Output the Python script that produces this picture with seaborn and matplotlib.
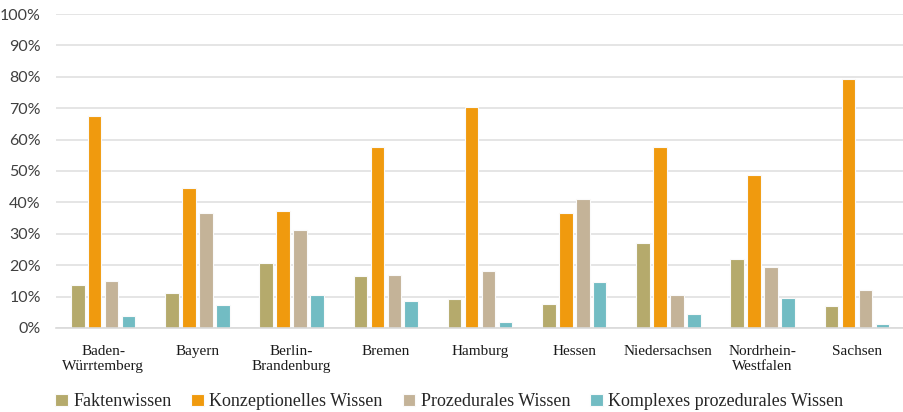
import matplotlib
matplotlib.use("Agg")
import matplotlib.pyplot as plt
import seaborn as sns
import pandas as pd
from matplotlib.ticker import FuncFormatter

regions = ["Baden-\nWürrtemberg", "Bayern", "Berlin-\nBrandenburg", "Bremen",
           "Hamburg", "Hessen", "Niedersachsen", "Nordrhein-\nWestfalen", "Sachsen"]
series = ["Faktenwissen", "Konzeptionelles Wissen", "Prozedurales Wissen",
          "Komplexes prozedurales Wissen"]
fakten = [13.6, 11.2, 20.8, 16.6, 9.2, 7.7, 27.0, 22.0, 7.1]
konzept = [67.4, 44.5, 37.2, 57.7, 70.5, 36.5, 57.7, 48.8, 79.3]
prozedural = [14.8, 36.6, 31.3, 16.9, 18.2, 41.0, 10.4, 19.5, 12.0]
komplex = [3.7, 7.4, 10.4, 8.7, 1.8, 14.6, 4.6, 9.5, 1.4]
colors = ["#b5aa6c", "#f09a0e", "#c4b398", "#72bcc3"]

rows = []
for name, vals in zip(series, [fakten, konzept, prozedural, komplex]):
    for r, v in zip(regions, vals):
        rows.append({"Land": r, "Wissensart": name, "Anteil": v})
df = pd.DataFrame(rows)

sns.set_theme(style="white")
fig = plt.figure(figsize=(9.04, 4.12), dpi=100)
ax = fig.add_axes([0.062, 0.204, 0.938, 0.762])

sns.barplot(data=df, x="Land", y="Anteil", hue="Wissensart", order=regions,
            hue_order=series, palette=colors, width=0.72, gap=0.2,
            edgecolor="#fafafa", linewidth=0.8, saturation=1, ax=ax)

ax.set_ylim(0, 100)
ax.set_xlim(-0.5, len(regions) - 0.5)
ax.set_yticks(range(0, 101, 10))
ax.yaxis.set_major_formatter(FuncFormatter(lambda v, p: f"{int(v)}%"))
ax.grid(axis="y", color="#e0e0e0", linewidth=1.2)
ax.set_axisbelow(True)
for s in ["top", "right", "left"]:
    ax.spines[s].set_visible(False)
ax.spines["bottom"].set_color("#d9d9d9")
ax.spines["bottom"].set_linewidth(1.2)
ax.set_xlabel("")
ax.set_ylabel("")
ax.tick_params(axis="y", length=0, pad=11, labelsize=11.5, labelcolor="#404040")
ax.tick_params(axis="x", length=0, pad=12)
for t in ax.get_yticklabels():
    t.set_fontfamily("Lato")
for t in ax.get_xticklabels():
    t.set_fontfamily("Liberation Serif")
    t.set_fontsize(11)
    t.set_color("#1a1a1a")

handles, labels = ax.get_legend_handles_labels()
ax.legend_.remove()
fig.legend(handles, labels, loc="lower center", bbox_to_anchor=(0.497, -0.035),
           ncol=4, frameon=False, handlelength=0.7, handleheight=0.7,
           handletextpad=0.3, columnspacing=1.1,
           prop={"family": "Liberation Serif", "size": 13})

fig.savefig("out.png", dpi=100)
